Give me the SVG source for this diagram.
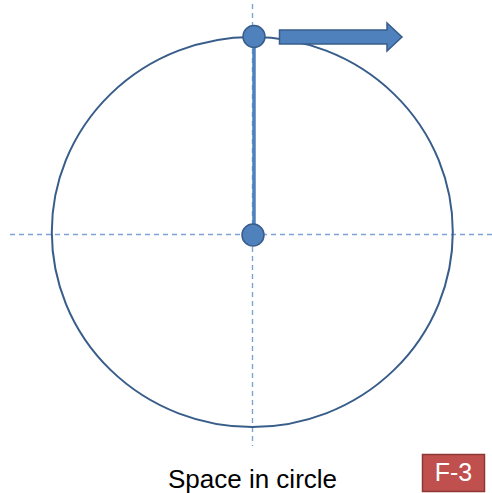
<svg xmlns="http://www.w3.org/2000/svg" width="492" height="493" viewBox="0 0 492 493">
<style>
.axis{stroke:#7ea3d6;stroke-width:1.4;stroke-dasharray:5,4;fill:none}
.dot{fill:#4f81bd;stroke:#385d8a;stroke-width:1.5}
.lbl{font-family:"Liberation Sans",Arial,sans-serif}
</style>
<rect width="492" height="493" fill="#ffffff"/>
<g id="axes">
<line class="axis" x1="10" y1="234.5" x2="492" y2="234.5"/>
<line class="axis" x1="252.5" y1="4" x2="252.5" y2="446"/>
</g>
<g id="circle">
<ellipse cx="252.3" cy="232" rx="200.5" ry="195" fill="none" stroke="#385d8a" stroke-width="2"/>
</g>
<g id="connectors">
<line x1="254" y1="37" x2="254" y2="235" stroke="#4f81bd" stroke-width="3.5"/>
</g>
<g id="top-dot"><circle class="dot" cx="254" cy="36.5" r="11"/></g>
<g id="center-dot"><circle class="dot" cx="253" cy="235" r="11"/></g>
<g id="arrow">
<path d="M279.5,30 L387,30 L387,23 L402,37 L387,51 L387,44 L279.5,44 Z" fill="#4f81bd" stroke="#385d8a" stroke-width="1.5" stroke-linejoin="miter"/>
</g>
<g id="caption">
<text class="lbl" x="252.5" y="488" font-size="26" text-anchor="middle" fill="#000">Space in circle</text>
</g>
<g id="tag">
<rect x="422.5" y="454.5" width="62" height="37" fill="#c0504d" stroke="#8c3836" stroke-width="1.5"/>
<text class="lbl" x="453.5" y="481" font-size="25" text-anchor="middle" fill="#ffffff">F-3</text>
</g>
</svg>
